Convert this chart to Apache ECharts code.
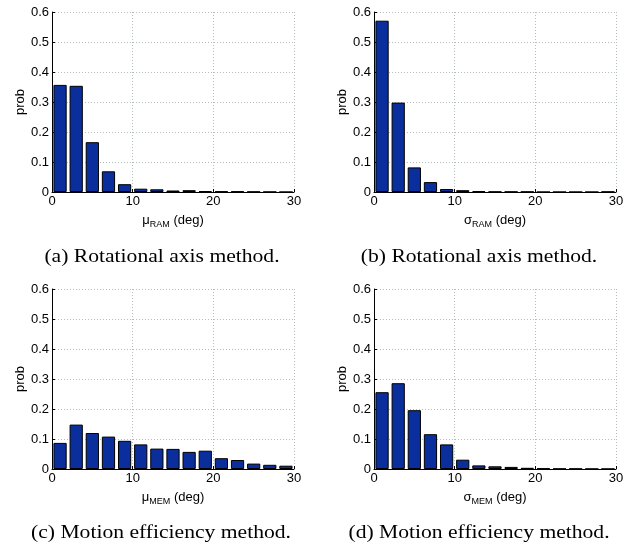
<!DOCTYPE html>
<html style="height: 100%">
   <head>
       <meta charset="utf-8">
   </head>
   <body style="height: 100%; margin: 0; background: #fff">
       <div id="container" style="width: 636px; height: 546px"></div>
       <script type="text/javascript" src="https://cdn.jsdelivr.net/npm/echarts@6/dist/echarts.min.js"></script>
       <script type="text/javascript">
// histogram bins, 2 deg wide over 0..30
var binCenters = ['1', '3', '5', '7', '9', '11', '13', '15', '17', '19', '21', '23', '25', '27', '29'];
var xTicks = [0, 10, 20, 30];
var yTicks = [0, 0.1, 0.2, 0.3, 0.4, 0.5, 0.6];

var muRAM    = [0.357, 0.354, 0.166, 0.069, 0.026, 0.011, 0.009, 0.005, 0.006, 0.003, 0.002, 0.002, 0.001, 0.0005, 0];
var sigmaRAM = [0.571, 0.298, 0.082, 0.033, 0.010, 0.006, 0.003, 0.001, 0.001, 0.001, 0, 0, 0, 0, 0.001];
var muMEM    = [0.087, 0.148, 0.120, 0.108, 0.094, 0.082, 0.068, 0.067, 0.057, 0.061, 0.036, 0.030, 0.018, 0.014, 0.011];
var sigmaMEM = [0.256, 0.286, 0.196, 0.116, 0.082, 0.031, 0.012, 0.009, 0.007, 0.004, 0.002, 0.001, 0.001, 0.0005, 0.0005];

var panels = [
    {data: muRAM,    sym: 'μ', sub: 'RAM', left: 52,  top: 12,  caption: '(a) Rotational axis method.',  cx: 162, cy: 257},
    {data: sigmaRAM, sym: 'σ', sub: 'RAM', left: 374, top: 12,  caption: '(b) Rotational axis method.',  cx: 479, cy: 257},
    {data: muMEM,    sym: 'μ', sub: 'MEM', left: 52,  top: 289, caption: '(c) Motion efficiency method.', cx: 161, cy: 533},
    {data: sigmaMEM, sym: 'σ', sub: 'MEM', left: 374, top: 289, caption: '(d) Motion efficiency method.', cx: 479, cy: 533}
];

var dom = document.getElementById("container");
var myChart = echarts.init(dom);

var gridLine = {show: true, lineStyle: {color: '#b4bcbc', type: [1, 2], width: 1}};
var labelFont = {color: '#000', fontSize: 13, fontFamily: 'Liberation Sans, Arial, sans-serif'};

var grids = [], xAxes = [], yAxes = [], series = [], captions = [];
panels.forEach(function (p, i) {
    grids.push({left: p.left, top: p.top, width: 242, height: 180});
    // hidden category axis that places the bars in their bins
    xAxes.push({
        type: 'category', gridIndex: i, data: binCenters, show: false
    });
    // visible value axis for ticks / grid
    xAxes.push({
        type: 'value', gridIndex: i, position: 'bottom',
        min: xTicks[0], max: xTicks[xTicks.length - 1], interval: 10,
        axisLine: {show: true, lineStyle: {color: '#000', width: 1}},
        axisTick: {show: true, inside: true, length: 3, lineStyle: {color: '#000'}},
        axisLabel: Object.assign({margin: 3}, labelFont),
        splitLine: gridLine,
        name: '{g|' + p.sym + '}{s|' + p.sub + '}{g| (deg)}',
        nameLocation: 'middle', nameGap: 19,
        nameTextStyle: {
            rich: {
                g: {fontSize: 13, color: '#000', fontFamily: 'Liberation Sans, Arial, sans-serif'},
                s: {fontSize: 9, color: '#000', fontFamily: 'Liberation Sans, Arial, sans-serif', padding: [9, 0, 0, 0]}
            }
        }
    });
    yAxes.push({
        type: 'value', gridIndex: i,
        min: yTicks[0], max: yTicks[yTicks.length - 1], interval: 0.1,
        axisLine: {show: true, lineStyle: {color: '#000', width: 1}},
        axisTick: {show: true, inside: true, length: 3, lineStyle: {color: '#000'}},
        axisLabel: Object.assign({
            margin: 3,
            formatter: function (v) { return v === 0 ? '0' : v.toFixed(1); }
        }, labelFont),
        splitLine: gridLine,
        name: 'prob', nameLocation: 'middle', nameGap: 25,
        nameTextStyle: labelFont
    });
    series.push({
        type: 'bar', xAxisIndex: i * 2, yAxisIndex: i,
        data: p.data, barWidth: '82%',
        itemStyle: {color: '#0a2f9c', borderColor: '#000', borderWidth: 1},
        silent: true, animation: false
    });
    // subfigure caption, a bit wider than tall like the scanned original
    captions.push({
        type: 'text', x: p.cx, y: p.cy, scaleX: 1.2,
        style: {
            text: p.caption, textAlign: 'center', textVerticalAlign: 'middle',
            font: '18px "Liberation Serif", "Times New Roman", serif', fill: '#000'
        }
    });
});

var option = {
    animation: false,
    grid: grids,
    xAxis: xAxes,
    yAxis: yAxes,
    series: series,
    graphic: captions
};
myChart.setOption(option, true);
       </script>
   </body>
</html>
